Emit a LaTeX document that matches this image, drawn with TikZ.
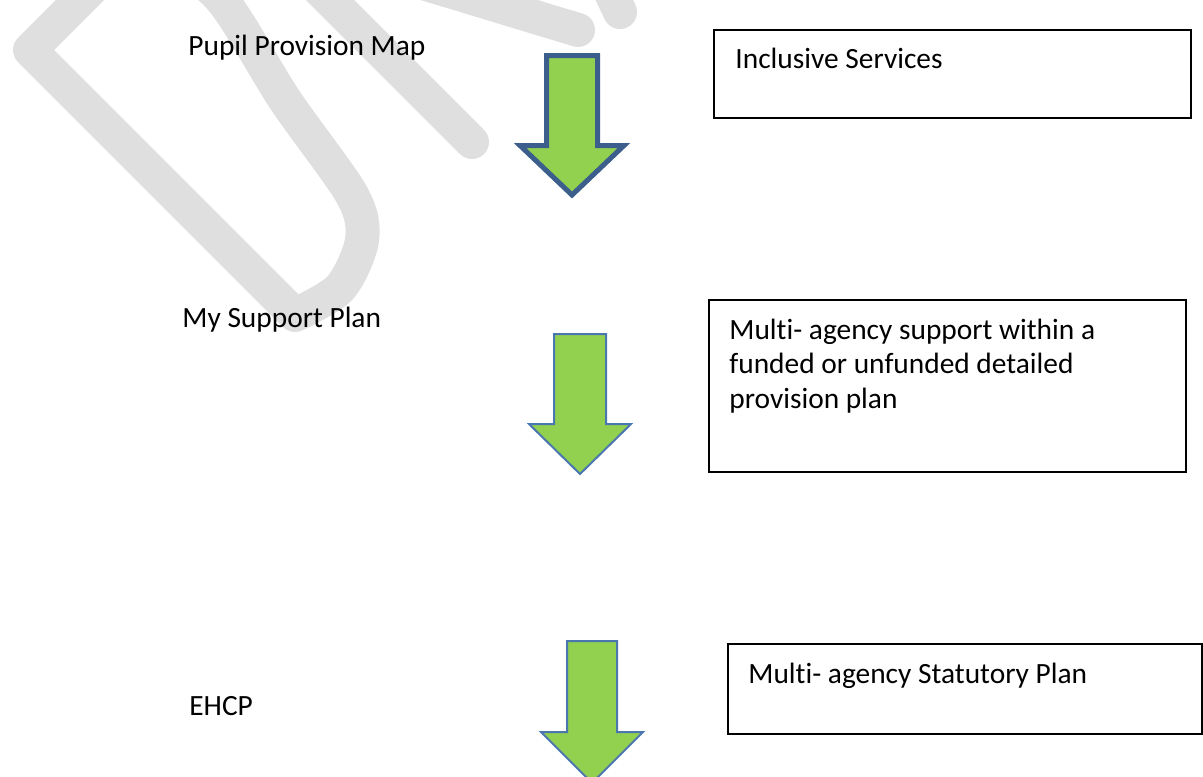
\documentclass[tikz,border=0pt]{standalone}
\usepackage{fontspec}
\setmainfont{Carlito}[Ligatures=CommonOff]
\usetikzlibrary{positioning}
\definecolor{leafgreen}{HTML}{92D050}
\definecolor{darkrim}{HTML}{3B5E8C}
\definecolor{lightrim}{HTML}{4A78AE}
\definecolor{draftgrey}{HTML}{DFDFDF}

\begin{document}
\begin{tikzpicture}[x=0.5pt,y=-0.5pt,
	every node/.style={font=\fontsize{14.7}{17.2}\selectfont, inner sep=0pt},
	infobox/.style={draw=black, line width=1.1pt, anchor=north west},
	greenarrow/.style={fill=leafgreen, draw=lightrim, line width=1pt, line join=miter},
	watermark/.style={draw=draftgrey, line width=17pt, line cap=round, line join=round}]
	\useasboundingbox (0,0) rectangle (1203,776);
	\clip (0,0) rectangle (1203,776);
	% faint draft lettering behind
	\draw [watermark] (295,315) -- (30,50) -- plot[smooth] coordinates {(105,-25) (170,-35) (222,0) (285,100) (352,195) (362,240) (340,288) (295,315)};
	\draw [watermark] (300,-30) -- (472,142);
	\draw [watermark] (380,-30) -- (578,30);
	\draw [watermark] (600,-30) -- (620,12);
	% levels on the left
	\node[anchor=base west] (ppm) at (188,55) {Pupil Provision Map};
	\node[anchor=base west] (msp) at (182,327) {My Support Plan};
	\node[anchor=base west] (ehcp) at (189,715) {EHCP};
	% arrows
	\draw [greenarrow, draw=darkrim, line width=2.5pt] (546.5,55.5) -- (597.5,55.5) -- (597.5,145.5) -- (624,145.5) -- (572,195) -- (520,145.5) -- (546.5,145.5) -- cycle;
	\draw [greenarrow] (554,334) -- (606,334) -- (606,424) -- (631,424) -- (580,474) -- (529,424) -- (554,424) -- cycle;
	\draw [greenarrow] (567,641) -- (617,641) -- (617,732) -- (643,732) -- (592,783) -- (541,732) -- (567,732) -- cycle;
	% boxes on the right
	\node[infobox, minimum width=238.5pt, minimum height=44pt] (inclusivebox) at (713,29) {};
	\node[anchor=base west] (inclusive) at (735,68) {Inclusive Services};
	\node[infobox, minimum width=238.5pt, minimum height=86pt] (multibox) at (708,299) {};
	\node[anchor=north west, align=left] (multiagency) at (729,318.5) {Multi- agency support within a\\funded or unfunded detailed\\provision plan};
	\node[infobox, minimum width=237pt, minimum height=45pt] (statutorybox) at (727,643) {};
	\node[anchor=base west] (statutory) at (748,683) {Multi- agency Statutory Plan};
\end{tikzpicture}
\end{document}
